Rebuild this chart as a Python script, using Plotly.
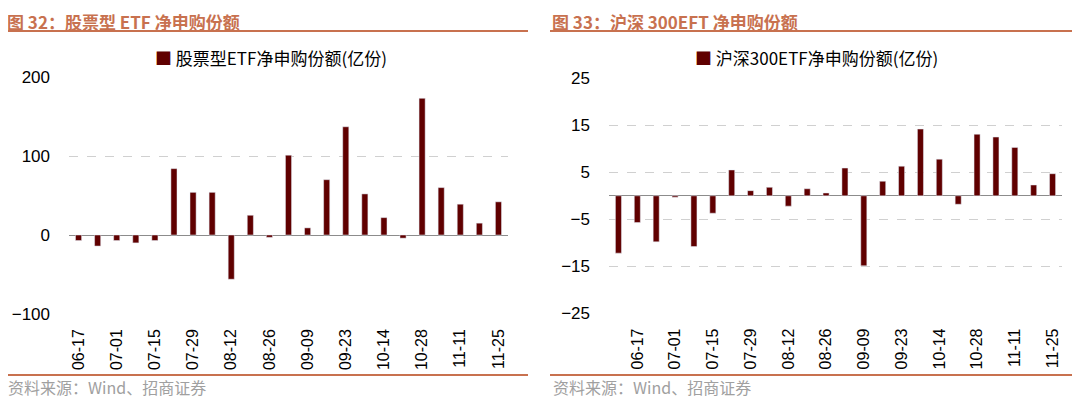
import plotly.graph_objects as go

# ---- data ----
left_dates = ["06-17", "06-24", "07-01", "07-08", "07-15", "07-22", "07-29", "08-05",
              "08-12", "08-19", "08-26", "09-02", "09-09", "09-16", "09-23", "09-30",
              "10-14", "10-21", "10-28", "11-04", "11-11", "11-18", "11-25"]
left_values = [-7, -14, -7, -10, -7, 84, 54, 54, -56, 25, -3, 101, 9, 70, 137, 52,
               22, -4, 173, 60, 39, 15, 42]
left_ticks = ["06-17", "07-01", "07-15", "07-29", "08-12", "08-26", "09-09", "09-23",
              "10-14", "10-28", "11-11", "11-25"]

right_dates = ["06-10", "06-17", "06-24", "07-01", "07-08", "07-15", "07-22", "07-29",
               "08-05", "08-12", "08-19", "08-26", "09-02", "09-09", "09-16", "09-23",
               "09-30", "10-14", "10-21", "10-28", "11-04", "11-11", "11-18", "11-25"]
right_values = [-12.2, -5.7, -9.8, -0.3, -10.8, -3.7, 5.5, 1.1, 1.8, -2.2, 1.5, 0.6,
                5.9, -14.9, 3.1, 6.3, 14.2, 7.8, -1.8, 13.1, 12.5, 10.3, 2.3, 4.7]
right_ticks = ["06-17", "07-01", "07-15", "07-29", "08-12", "08-26", "09-09", "09-23",
               "10-14", "10-28", "11-11", "11-25"]

left_title = "图 32：股票型 ETF 净申购份额"
right_title = "图 33：沪深 300EFT 净申购份额"
left_series = "股票型ETF净申购份额(亿份)"
right_series = "沪深300ETF净申购份额(亿份)"
source = "资料来源：Wind、招商证券"

# The page body has an 8px margin, so the figure is sized to fit the window
OFF = 8
W, H = 1080 - OFF, 398 - OFF
BAR = "#600000"
ACC = "#c8714f"
FONT = "Liberation Sans, Arial, Noto Sans CJK SC, sans-serif"
CJK = "Noto Sans CJK SC, Liberation Sans, sans-serif"

def px(x):
    return max(0.0, (x - OFF) / W)

def py(y):
    return 1 - (y - OFF) / H

fig = go.Figure()
fig.add_trace(go.Bar(x=left_dates, y=left_values, marker_color=BAR, width=0.32,
                     name=left_series, showlegend=False, xaxis="x", yaxis="y"))
fig.add_trace(go.Bar(x=right_dates, y=right_values, marker_color=BAR, width=0.32,
                     name=right_series, showlegend=False, xaxis="x2", yaxis="y2"))

axis_common = dict(showline=False, ticks="", tickangle=-90, automargin=False,
                   tickfont=dict(family=FONT, size=16, color="#000"),
                   showgrid=False, type="category", ticklabelstandoff=11)
yaxis_common = dict(showline=False, ticks="", automargin=False,
                    tickfont=dict(family=FONT, size=17, color="#000"),
                    showgrid=True, gridcolor="#d0d0d0", griddash="dash", gridwidth=1,
                    zeroline=True, zerolinecolor="#8c8c8c", zerolinewidth=1.3,
                    ticklabelstandoff=18)

fig.update_layout(
    width=W, height=H, margin=dict(l=0, r=0, t=0, b=0),
    paper_bgcolor="white", plot_bgcolor="white",
    xaxis=dict(domain=[px(69), px(508)], anchor="y",
               categoryorder="array", categoryarray=left_dates,
               tickvals=left_ticks, ticktext=left_ticks, **axis_common),
    yaxis=dict(domain=[py(314), py(77)], anchor="x", range=[-100, 200],
               tickvals=[-100, 0, 100, 200], **yaxis_common),
    xaxis2=dict(domain=[px(609), px(1062)], anchor="y2",
                categoryorder="array", categoryarray=right_dates,
                tickvals=right_ticks, ticktext=right_ticks, **axis_common),
    yaxis2=dict(domain=[py(313.3), py(78.3)], anchor="x2", range=[-25, 25],
                tickvals=[-25, -15, -5, 5, 15, 25], **yaxis_common),
    bargap=0.68,
)

shapes = []
for x0, x1 in [(0, 528), (550, 1080)]:
    shapes.append(dict(type="line", xref="paper", yref="paper", x0=px(x0), x1=px(x1),
                       y0=py(31), y1=py(31), line=dict(color=ACC, width=2)))
    shapes.append(dict(type="line", xref="paper", yref="paper", x0=px(x0), x1=px(x1),
                       y0=py(375), y1=py(375), line=dict(color=ACC, width=2)))
fig.update_layout(shapes=shapes)

ann = []
for x, t in [(8, left_title), (553, right_title)]:
    ann.append(dict(xref="paper", yref="paper", x=px(x), y=1.0, xanchor="left",
                    yanchor="top", showarrow=False, text="<b>" + t + "</b>",
                    borderpad=0, xshift=-2, font=dict(family=CJK, size=17, color=ACC)))
for x, t in [(8, source), (553, source)]:
    ann.append(dict(xref="paper", yref="paper", x=px(x), y=py(387), xanchor="left",
                    yanchor="middle", showarrow=False, text=t,
                    xshift=-2, font=dict(family=CJK, size=16, color="#a0a0a0")))
for x, t in [(271, left_series), (816, right_series)]:
    ann.append(dict(xref="paper", yref="paper", x=px(x), y=py(58), xanchor="center",
                    yanchor="middle", showarrow=False,
                    text='<span style="color:%s">■</span> %s' % (BAR, t),
                    font=dict(family=CJK, size=17, color="#000")))
fig.update_layout(annotations=ann)

fig.write_html("out.html")
